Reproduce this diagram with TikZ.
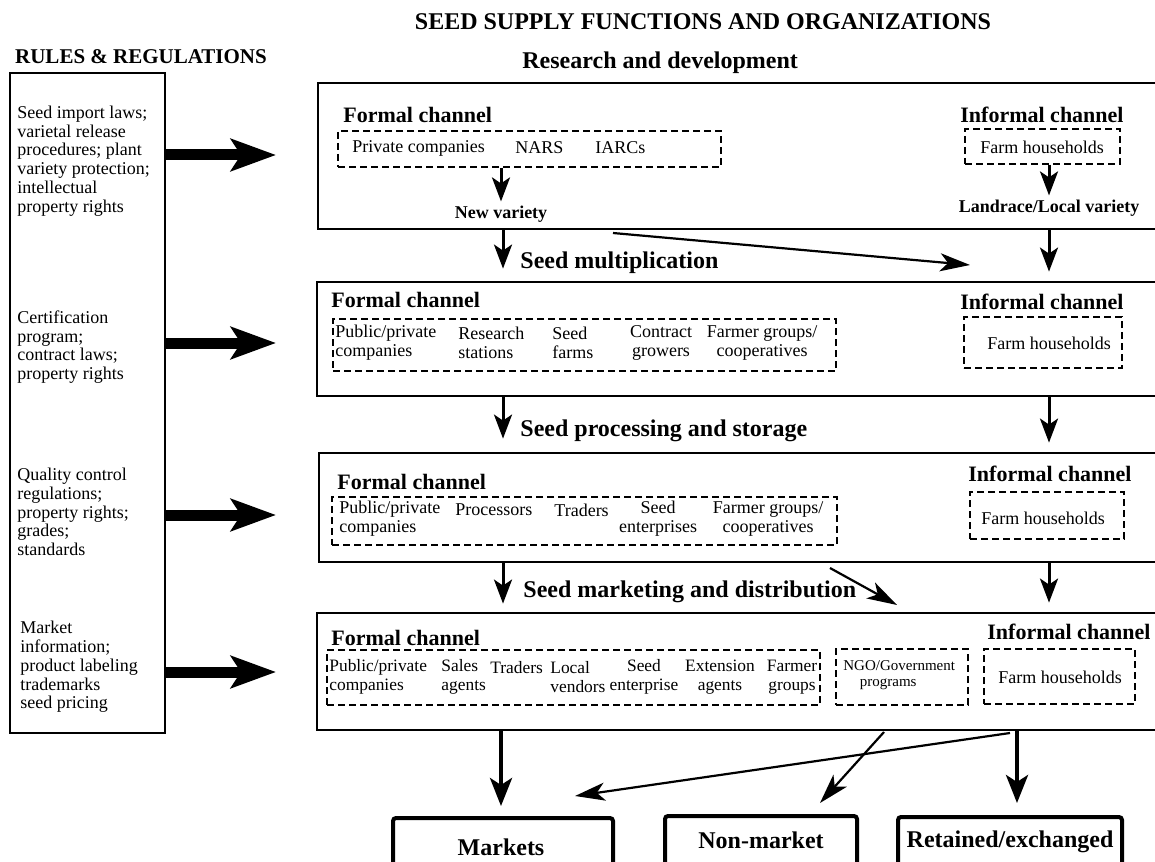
\documentclass[tikz,border=0pt]{standalone}
\usepackage{fontspec}
\setmainfont{Liberation Serif}
\usetikzlibrary{arrows.meta,fit}

\begin{document}
\begin{tikzpicture}[x=0.5pt,y=-0.5pt,
        every node/.style={inner sep=0pt},
        ttl/.style={font=\bfseries\fontsize{12}{14}\selectfont},
        rhead/.style={font=\bfseries\fontsize{10.5}{12}\selectfont},
        head/.style={anchor=west,font=\bfseries\fontsize{12}{14}\selectfont},
        chan/.style={anchor=west,font=\bfseries\fontsize{11}{13}\selectfont},
        itm/.style={anchor=west,align=left,font=\fontsize{9}{9.6}\selectfont},
        sitm/.style={itm,font=\fontsize{8.7}{9.6}\selectfont},
        ctr/.style={anchor=center,align=center},
        ltxt/.style={anchor=west,align=left,font=\fontsize{9}{9.35}\selectfont},
        vlab/.style={inner sep=2pt,font=\bfseries\fontsize{9}{10}\selectfont},
        ngo/.style={anchor=west,align=left,font=\fontsize{7.5}{7.8}\selectfont},
        otxt/.style={font=\bfseries\fontsize{12}{14}\selectfont},
        mbox/.style={draw,line width=1.4pt},
        dbox/.style={draw,line width=0.7pt,dash pattern=on 3.5pt off 2pt},
        obox/.style={draw,line width=2pt,rounded corners=1.5pt},
        arr/.style={-{Stealth[length=12pt,width=9pt,inset=3pt]},line width=1.5pt},
        thinarr/.style={-{Stealth[length=15pt,width=9pt,inset=4pt]},line width=1.1pt},
        barr/.style={-{Stealth[length=14pt,width=11pt,inset=3.5pt]},line width=2pt},
        big/.style={-{Stealth[length=22.5pt,width=16pt,inset=5pt]},line width=5.5pt}]
\useasboundingbox (0,0) rectangle (1155,861);

\node[ttl] (title) at (703,22) {SEED SUPPLY FUNCTIONS AND ORGANIZATIONS};
\node[rhead] (rtitle) at (141,57) {RULES \& REGULATIONS};

% rules and regulations
\node[mbox,fit={(10,73) (165,733)}] (rules) {};
\node[ltxt] (r1) at (17,161) {Seed import laws;\\varietal release\\procedures; plant\\variety protection;\\intellectual\\property rights};
\node[ltxt] (r2) at (17,347) {Certification\\program;\\contract laws;\\property rights};
\node[ltxt] (r3) at (17,512) {Quality control\\regulations;\\property rights;\\grades;\\standards};
\node[ltxt] (r4) at (20,667) {Market\\information;\\product labeling\\trademarks\\seed pricing};
\foreach \y/\n in {155/1,343/2,515/3,672/4} \coordinate (t\n) at (276,\y);
\foreach \n in {1,...,4} \draw[big] (rules.east |- t\n) -- (t\n);

% research and development
\node[head] (rdT) at (522,63) {Research and development};
\node[mbox,fit={(318,83) (1165,229)}] (rd) {};
\node[chan] (rdF) at (343,115) {Formal channel};
\node[dbox,fit={(338,131) (721,167)}] (rdFb) {};
\node[itm] (rd1) at (352,148) {Private companies};
\node[itm] (rd2) at (515,148) {NARS};
\node[itm] (rd3) at (595,148) {IARCs};
\node[vlab] (nv) at (501,214) {New variety};
\draw[arr] (rdFb.south -| nv) -- (nv);
\node[chan] (rdI) at (960,115) {Informal channel};
\node[dbox,fit={(965,129) (1120,164)}] (rdIb) {};
\node[itm,ctr] (rd4) at (1042,147) {Farm households};
\node[vlab] (lv) at (1049,208) {Landrace/Local variety};
\draw[arr] (rdIb.south -| lv) -- (lv);

% seed multiplication
\node[head] (smT) at (520,263) {Seed multiplication};
\node[mbox,fit={(317,282) (1165,396)}] (sm) {};
\node[chan] (smF) at (331,300) {Formal channel};
\node[dbox,fit={(333,319) (836,371)}] (smFb) {};
\node[itm] (sm1) at (335,343) {Public/private\\companies};
\node[itm] (sm2) at (458,343) {Research\\stations};
\node[itm] (sm3) at (552,343) {Seed\\farms};
\node[itm,ctr] (sm4) at (661,343) {Contract\\growers};
\node[itm,ctr] (sm5) at (762,343) {Farmer groups/\\cooperatives};
\node[chan] (smI) at (960,302) {Informal channel};
\node[dbox,fit={(964,317) (1122,368)}] (smIb) {};
\node[itm,ctr] (sm6) at (1049,343) {Farm households};

% seed processing and storage
\node[head] (psT) at (520,431) {Seed processing and storage};
\node[mbox,fit={(319,453) (1165,562)}] (ps) {};
\node[chan] (psF) at (337,482) {Formal channel};
\node[dbox,fit={(332,497) (837,545)}] (psFb) {};
\node[itm] (ps1) at (339,519) {Public/private\\companies};
\node[itm] (ps2) at (455,510) {Processors};
\node[itm] (ps3) at (554,510) {Traders};
\node[itm,ctr] (ps4) at (658,519) {Seed\\enterprises};
\node[itm,ctr] (ps5) at (768,519) {Farmer groups/\\cooperatives};
\node[chan] (psI) at (968,474) {Informal channel};
\node[dbox,fit={(970,492) (1124,539)}] (psIb) {};
\node[itm,ctr] (ps6) at (1043,518) {Farm households};

% seed marketing and distribution
\node[head] (mdT) at (523,592) {Seed marketing and distribution};
\node[mbox,fit={(317,613) (1165,730)}] (md) {};
\node[chan] (mdF) at (331,638) {Formal channel};
\node[dbox,fit={(327,650) (820,705)}] (mdFb) {};
\node[sitm] (md1) at (329,677) {Public/private\\companies};
\node[sitm] (md2) at (441,677) {Sales\\agents};
\node[sitm] (md3) at (490,668) {Traders};
\node[sitm] (md4) at (550,677) {Local\\vendors};
\node[sitm,ctr] (md5) at (644,677) {Seed\\enterprise};
\node[sitm,ctr] (md6) at (720,677) {Extension\\agents};
\node[sitm,ctr] (md7) at (792,677) {Farmer\\groups};
\node[dbox,fit={(836,649) (968,705)}] (mdNb) {};
\node[ngo] (md8) at (843,675) {NGO/Government\\\hspace*{1.1em}programs};
\node[chan] (mdI) at (987,632) {Informal channel};
\node[dbox,fit={(984,649) (1135,704)}] (mdIb) {};
\node[itm,ctr] (md9) at (1060,677) {Farm households};

% flows between the functions
\coordinate (lx) at (503,0);
\coordinate (rx) at (1049,0);
\foreach \a/\b/\s in {rd/sm/6pt,sm/ps/6.5pt,ps/md/4pt} {
    \draw[arr,shorten >=\s] (\a.south -| lx) -- (\b.north -| lx);
    \draw[arr,shorten >=4.5pt] (\a.south -| rx) -- (\b.north -| rx);
}
\coordinate (d1a) at (613,233);
\coordinate (d1b) at (970,265);
\draw[thinarr] (d1a) -- (d1b);
\coordinate (d2a) at (830,568);
\coordinate (d2b) at (897,605);
\draw[thinarr] (d2a) -- (d2b);

% outlets
\node[obox,fit={(393,818) (613,880)}] (mk) {};
\node[otxt] (mkT) at (501,847) {Markets};
\node[obox,fit={(665,816) (857,880)}] (nm) {};
\node[otxt] (nmT) at (761,840) {Non-market};
\node[obox,fit={(898,817) (1122,880)}] (re) {};
\node[otxt] (reT) at (1010,842) {Retained/exchanged};
\draw[barr,shorten >=5pt] (md.south -| mkT) -- (mk.north -| mkT);
\coordinate (fh) at (1010,733);
\coordinate (mkIn) at (575,796);
\draw[thinarr] (fh) -- (mkIn);
\coordinate (ng) at (884,732);
\coordinate (nmIn) at (820,803);
\draw[thinarr] (ng) -- (nmIn);
\coordinate (reIn) at (1017,803);
\draw[barr] (md.south -| reIn) -- (reIn);
%\draw[barr] (md.south -| nmT) -- (nm.north -| nmT);
\end{tikzpicture}
\end{document}
